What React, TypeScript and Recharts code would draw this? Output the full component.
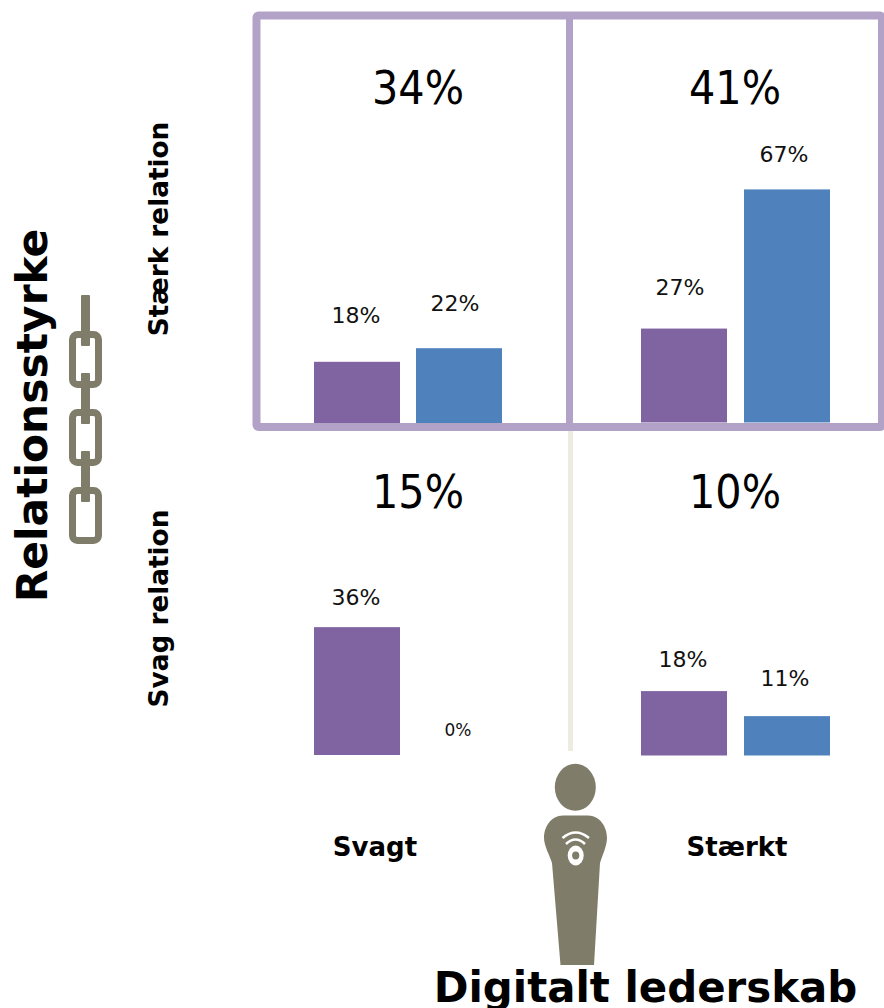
import React from "react";
import { BarChart, Bar, XAxis, YAxis } from "recharts";

// Values per quadrant, ordered: weak/strong leadership
const leadershipLevels = ["Svagt", "Stærkt"];
const relationLevels = ["Stærk relation", "Svag relation"];
const strongRelationTotals = [34, 41];
const weakRelationTotals = [15, 10];
const strongRelationFirst = [18, 27];
const strongRelationSecond = [22, 67];
const weakRelationFirst = [36, 18];
const weakRelationSecond = [0, 11];

const PURPLE = "#8064A2";
const BLUE = "#4F81BD";
const FRAME = "#B3A2C7";
const DIVIDER = "#EEECE1";
const GREY = "#7F7D69";
const BOLD = "'DejaVu Sans', sans-serif";
const CONDENSED = "'DejaVu Sans Condensed', 'DejaVu Sans', sans-serif";

type LabelStyle = { dx: number; dy: number; size?: number };

// Draws the bar together with its percentage so that a zero-height bar still gets a label
const makeBarShape = (dataKey: string, fill: string, style: LabelStyle) => (props: any) => {
  const { x, y, width, height, payload } = props;
  return (
    <g>
      {height > 0 && <rect x={x} y={y} width={width} height={height} fill={fill} />}
      <text
        x={x + width / 2 + style.dx}
        y={y - style.dy}
        textAnchor="middle"
        dominantBaseline="central"
        fontFamily={BOLD}
        fontSize={style.size ?? 22}
        fill="#111"
      >
        {`${payload[dataKey]}%`}
      </text>
    </g>
  );
};

type PanelProps = {
  category: string;
  first: number;
  second: number;
  left: number;
  top: number;
  width: number;
  height: number;
  yMax: number;
  gap: number;
  firstLabel: LabelStyle;
  secondLabel: LabelStyle;
};

function Panel(p: PanelProps) {
  const rows = [{ category: p.category, first: p.first, second: p.second }];
  return (
    <div style={{ position: "absolute", left: p.left, top: p.top }}>
      <BarChart
        width={p.width}
        height={p.height}
        data={rows}
        margin={{ top: 0, right: 0, bottom: 0, left: 0 }}
        barSize={86}
        barGap={p.gap}
        style={{ overflow: "visible" }}
      >
        <XAxis dataKey="category" hide />
        <YAxis hide domain={[0, p.yMax]} />
        <Bar dataKey="first" fill={PURPLE} isAnimationActive={false} shape={makeBarShape("first", PURPLE, p.firstLabel)} />
        <Bar dataKey="second" fill={BLUE} isAnimationActive={false} shape={makeBarShape("second", BLUE, p.secondLabel)} />
      </BarChart>
    </div>
  );
}

function ChainIcon() {
  const links = [331, 409, 487];
  const stems: [number, number][] = [
    [295, 346],
    [373, 424],
    [451, 502],
  ];
  return (
    <g fill={GREY}>
      {links.map((y) => (
        <rect key={y} x={72.5} y={y + 3.5} width={26} height={50} rx={5} fill="none" stroke={GREY} strokeWidth={7} />
      ))}
      {stems.map(([a, b]) => (
        <rect key={a} x={81} y={a} width={9} height={b - a} rx={1} />
      ))}
    </g>
  );
}

function PersonIcon() {
  return (
    <g>
      <ellipse cx={575.3} cy={787.3} rx={20.5} ry={23.5} fill={GREY} />
      <path
        d="M563 815.5 L588 815.5 C600 815.5 607 827 607 838 C607 846 602 856 600 863 L594 965 L560.5 965 L552 863 C550 856 544 846 544 838 C544 827 551 815.5 563 815.5 Z"
        fill={GREY}
      />
      <path d="M562.5 838 Q575.5 827 589 838" fill="none" stroke="#fff" strokeWidth={2.6} />
      <path d="M566 844 Q575.5 835 585 844" fill="none" stroke="#fff" strokeWidth={2.6} />
      <ellipse cx={575.7} cy={855.5} rx={8} ry={10} fill="#fff" />
      <ellipse cx={575.7} cy={855.5} rx={3.6} ry={4} fill={GREY} />
    </g>
  );
}

export default function App() {
  return (
    <div style={{ position: "absolute", left: 0, top: 0, width: 884, height: 1008, overflow: "hidden", background: "#fff" }}>
      <svg width={884} height={1008} style={{ position: "absolute", left: 0, top: 0 }}>
        <rect x={568} y={431} width={5} height={320} fill={DIVIDER} />
        <rect x={256.5} y={15.5} width={625.5} height={411.5} rx={2} fill="none" stroke={FRAME} strokeWidth={8} />
        <rect x={566} y={12} width={7} height={415} fill={FRAME} />

        {[strongRelationTotals, weakRelationTotals].map((totals, row) =>
          totals.map((total, col) => (
            <text
              key={`${row}-${col}`}
              x={col === 0 ? 418 : 735}
              y={row === 0 ? 88 : 492}
              textAnchor="middle"
              dominantBaseline="central"
              fontFamily={CONDENSED}
              fontStretch="condensed"
              fontSize={46}
              fill="#000"
            >
              {`${total}%`}
            </text>
          )),
        )}

        <ChainIcon />
        <PersonIcon />

        <text
          transform="translate(32 415.5) rotate(-90)"
          textAnchor="middle"
          dominantBaseline="central"
          fontFamily={BOLD}
          fontWeight={700}
          fontSize={42.4}
          fill="#000"
        >
          Relationsstyrke
        </text>
        {relationLevels.map((label, i) => (
          <text
            key={label}
            transform={`translate(159 ${i === 0 ? 229 : 608.5}) rotate(-90)`}
            textAnchor="middle"
            dominantBaseline="central"
            fontFamily={BOLD}
            fontWeight={700}
            fontSize={26.3}
            fill="#000"
          >
            {label}
          </text>
        ))}
        {leadershipLevels.map((label, i) => (
          <text
            key={label}
            x={i === 0 ? 375 : 737}
            y={847}
            textAnchor="middle"
            dominantBaseline="central"
            fontFamily={BOLD}
            fontWeight={700}
            fontSize={26}
            fill="#000"
          >
            {label}
          </text>
        ))}
        <text
          x={645.5}
          y={1001.5}
          textAnchor="middle"
          fontFamily={BOLD}
          fontWeight={700}
          fontSize={41.9}
          fill="#000"
        >
          Digitalt lederskab
        </text>
      </svg>

      <Panel
        category={leadershipLevels[0]}
        first={strongRelationFirst[0]}
        second={strongRelationSecond[0]}
        left={260}
        top={100}
        width={296}
        height={323}
        yMax={95}
        gap={16}
        firstLabel={{ dx: -1, dy: 46 }}
        secondLabel={{ dx: -4, dy: 45 }}
      />
      <Panel
        category={leadershipLevels[1]}
        first={strongRelationFirst[1]}
        second={strongRelationSecond[1]}
        left={600}
        top={100}
        width={271}
        height={322.5}
        yMax={92.7}
        gap={17}
        firstLabel={{ dx: -4, dy: 41 }}
        secondLabel={{ dx: -3, dy: 35 }}
      />
      <Panel
        category={leadershipLevels[0]}
        first={weakRelationFirst[0]}
        second={weakRelationSecond[0]}
        left={260}
        top={500}
        width={296}
        height={255}
        yMax={71.8}
        gap={16}
        firstLabel={{ dx: -1, dy: 30 }}
        secondLabel={{ dx: -1, dy: 25, size: 17 }}
      />
      <Panel
        category={leadershipLevels[1]}
        first={weakRelationFirst[1]}
        second={weakRelationSecond[1]}
        left={600}
        top={500}
        width={271}
        height={255.5}
        yMax={71.4}
        gap={17}
        firstLabel={{ dx: -1, dy: 32 }}
        secondLabel={{ dx: -2, dy: 38 }}
      />
    </div>
  );
}
